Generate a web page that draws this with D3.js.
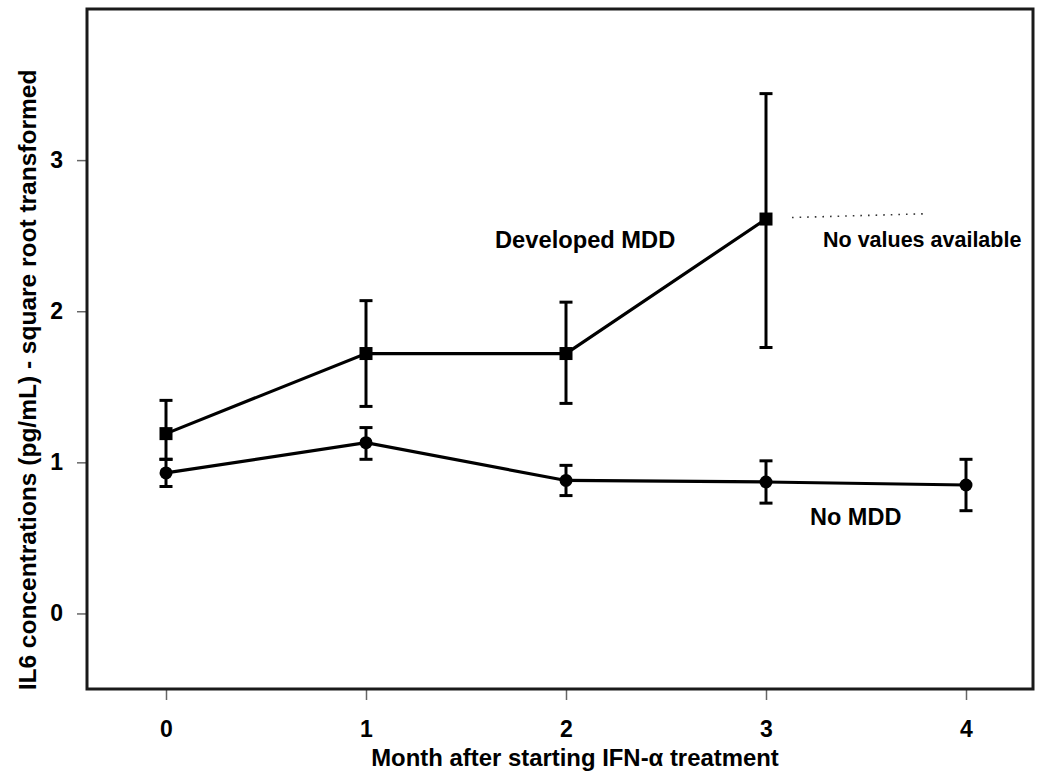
<!DOCTYPE html>
<html>
<head>
<meta charset="utf-8">
<script src="https://cdn.jsdelivr.net/npm/d3@7"></script>
<style>
  html, body { margin: 0; padding: 0; background: #fff; }
  svg { display: block; }
  text { font-family: "Liberation Sans", Arial, sans-serif; font-weight: bold; fill: #000; }
</style>
</head>
<body>
<svg id="chart" width="1050" height="782"></svg>
<script>
// ---- Data ----
const months = [0, 1, 2, 3, 4];
const mddMonths = [0, 1, 2, 3];
const mddMean  = [1.19, 1.72, 1.72, 2.61];
const mddUpper = [1.41, 2.07, 2.06, 3.44];
const mddLower = [1.02, 1.37, 1.39, 1.76];
const noMean   = [0.93, 1.13, 0.88, 0.87, 0.85];
const noUpper  = [1.02, 1.23, 0.98, 1.01, 1.02];
const noLower  = [0.84, 1.02, 0.78, 0.73, 0.68];
const xTicks = [0, 1, 2, 3, 4];
const yTicks = [0, 1, 2, 3];
const xTitle = "Month after starting IFN-\u03b1 treatment";
const yTitle = "IL6 concentrations (pg/mL) - square root transformed";
const noValuesLine = [[3.13, 2.62], [3.8, 2.645]];
const labels = [
  { text: "Developed MDD", x: 1.645, y: 2.418, size: 23.7 },
  { text: "No values available", x: 3.285, y: 2.425, size: 21.5 },
  { text: "No MDD", x: 3.22, y: 0.585, size: 23.5 }
];

// ---- Layout ----
const pLeft = 87, pRight = 1033, pTop = 9, pBottom = 689;
const svg = d3.select("#chart");
const x = d3.scaleLinear().domain([-0.395, 4.335]).range([pLeft, pRight]);
const y = d3.scaleLinear().domain([-0.5, 4.0]).range([pBottom, pTop]);

const tickFont = "23px";

// axes
const xAxis = svg.append("g").attr("transform", `translate(0,${pBottom})`)
  .call(d3.axisBottom(x).tickValues(xTicks).tickFormat(d3.format("d")).tickSize(11).tickPadding(21));
xAxis.select(".domain").remove();
xAxis.selectAll(".tick line").attr("stroke", "#666").attr("stroke-width", 1.5);
xAxis.selectAll(".tick text").style("font-size", tickFont).style("font-family", "'Liberation Sans', Arial, sans-serif").style("font-weight", "bold").attr("fill", "#000");

const yAxis = svg.append("g").attr("transform", `translate(${pLeft},0)`)
  .call(d3.axisLeft(y).tickValues(yTicks).tickFormat(d3.format("d")).tickSize(10).tickPadding(14));
yAxis.select(".domain").remove();
yAxis.selectAll(".tick line").attr("stroke", "#666").attr("stroke-width", 1.5);
yAxis.selectAll(".tick text").style("font-size", tickFont).style("font-family", "'Liberation Sans', Arial, sans-serif").style("font-weight", "bold").attr("fill", "#000");

// frame
svg.append("rect").attr("x", pLeft).attr("y", pTop)
  .attr("width", pRight - pLeft).attr("height", pBottom - pTop)
  .attr("fill", "none").attr("stroke", "#1a1a1a").attr("stroke-width", 3);

// titles
svg.append("text").attr("x", 575).attr("y", 766).attr("text-anchor", "middle")
  .style("font-size", "23.9px").text(xTitle);
svg.append("text").attr("transform", `translate(36,380) rotate(-90)`).attr("text-anchor", "middle")
  .style("font-size", "24.5px").text(yTitle);

// series drawing helper
function drawSeries(xs, mean, up, lo, shape) {
  const g = svg.append("g");
  const pts = xs.map((m, i) => ({ m, v: mean[i], u: up[i], l: lo[i] }));
  g.append("path").datum(pts)
    .attr("d", d3.line().x(d => x(d.m)).y(d => y(d.v)))
    .attr("fill", "none").attr("stroke", "#000").attr("stroke-width", 3.2);
  const cw = 6.5;
  pts.forEach(d => {
    g.append("line").attr("x1", x(d.m)).attr("x2", x(d.m)).attr("y1", y(d.u)).attr("y2", y(d.l))
      .attr("stroke", "#000").attr("stroke-width", 3);
    [d.u, d.l].forEach(v => {
      g.append("line").attr("x1", x(d.m) - cw).attr("x2", x(d.m) + cw).attr("y1", y(v)).attr("y2", y(v))
        .attr("stroke", "#000").attr("stroke-width", 3);
    });
    if (shape === "square") {
      g.append("rect").attr("x", x(d.m) - 6.5).attr("y", y(d.v) - 6.5).attr("width", 13).attr("height", 13).attr("fill", "#000");
    } else {
      g.append("circle").attr("cx", x(d.m)).attr("cy", y(d.v)).attr("r", 6.5).attr("fill", "#000");
    }
  });
}
drawSeries(months, noMean, noUpper, noLower, "circle");
drawSeries(mddMonths, mddMean, mddUpper, mddLower, "square");

// dotted "no values" line
svg.append("path").datum(noValuesLine)
  .attr("d", d3.line().x(d => x(d[0])).y(d => y(d[1])))
  .attr("fill", "none").attr("stroke", "#333").attr("stroke-width", 1.6)
  .attr("stroke-dasharray", "1.6,6");

// labels
labels.forEach(l => {
  svg.append("text").attr("x", x(l.x)).attr("y", y(l.y)).style("font-size", l.size + "px").text(l.text);
});
</script>
</body>
</html>
